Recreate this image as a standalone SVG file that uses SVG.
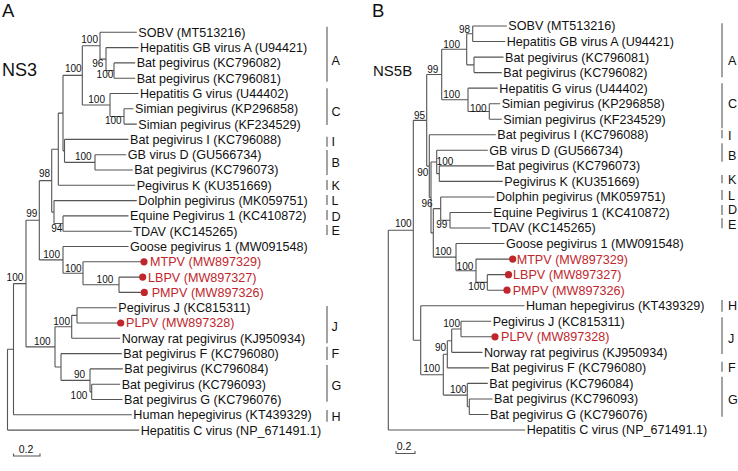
<svg xmlns="http://www.w3.org/2000/svg" width="738" height="471" viewBox="0 0 738 471">
<style>
.br{fill:none;stroke:#555;stroke-width:1.1}
.bar{fill:none;stroke:#666;stroke-width:1.2}
text{font-family:"Liberation Sans",Arial,Helvetica,sans-serif;fill:#111}
.t{font-size:12.6px}
.r{fill:#c0272d}
.s{font-size:10px;text-anchor:end}
.c{font-size:12.6px}
.p{font-size:18.5px}
.g{font-size:16px}
.sc{font-size:10.5px;text-anchor:middle}
.dot{fill:#c0272d}
</style>
<rect width="738" height="471" fill="#fff"/>
<text class="p" x="2" y="17">A</text>
<text class="g" x="2" y="76" style="font-size:18px">NS3</text>
<text class="p" x="372" y="17">B</text>
<text class="g" x="373" y="76" style="font-size:15px">NS5B</text>

<g id="connectors-A" class="br">
<path d="M7.5 349.2V430.1M7.5 349.2H13.5M7.5 430.1H139.2"/>
<path d="M13.5 283.6V414.8M13.5 283.6H26M13.5 414.8H131.8"/>
<path d="M26 220.3V346.9M26 220.3H39.3M26 346.9H55"/>
<path d="M39.3 180.65V259.9M39.3 180.65H51.7M39.3 259.9H63"/>
<path d="M51.7 149.2V212.1M51.7 149.2H58.3M51.7 212.1H54"/>
<path d="M58.3 113.1V185.3M58.3 113.1H63M58.3 185.3H135.2"/>
<path d="M63 75.35V150.9M63 75.35H82.3M63 150.9H64.5"/>
<path d="M64.5 139.4V162.35M64.5 139.4H128.5M64.5 162.35H95"/>
<path d="M95 154.7V170M95 154.7H126.2M95 170H132.8"/>
<path d="M82.3 45.7V105M82.3 45.7H100M82.3 105H110"/>
<path d="M100 32.3V59.1M100 32.3H136.8M100 59.1H106"/>
<path d="M106 47.6V70.55M106 47.6H138.5M106 70.55H114"/>
<path d="M114 62.9V78.2M114 62.9H135.2M114 78.2H135.2"/>
<path d="M110 93.5V116.45M110 93.5H138.5M110 116.45H124"/>
<path d="M124 108.8V124.1M124 108.8H133.5M124 124.1H136.8"/>
<path d="M54 200.6V223.55M54 200.6H136.8M54 223.55H63"/>
<path d="M63 215.9V231.2M63 215.9H128.5M63 231.2H131.8"/>
<path d="M63 246.5V273.3M63 246.5H128.5M63 273.3H83"/>
<path d="M83 261.8V284.75M83 261.8H144M83 284.75H119"/>
<path d="M119 277.1V292.4M119 277.1H142.7M119 292.4H144.3"/>
<path d="M55 326.8V367M55 326.8H71.7M55 367H61"/>
<path d="M71.7 315.35V338.3M71.7 315.35H77M71.7 338.3H120.2"/>
<path d="M77 307.7V323M77 307.7H116.8M77 323H120.7"/>
<path d="M61 353.6V380.4M61 353.6H121.8M61 380.4H90"/>
<path d="M90 368.9V391.85M90 368.9H122.8M90 391.85H91.7"/>
<path d="M91.7 384.2V399.5M91.7 384.2H120.2M91.7 399.5H122.5"/>
</g>

<g id="connectors-B" class="br">
<path d="M388.3 230.27V430M388.3 230.27H413.3M388.3 430H525.2"/>
<path d="M413.3 120.33V340.2M413.3 120.33H426.7M413.3 340.2H420.7"/>
<path d="M420.7 305.72V374.68M420.7 305.72H524.5M420.7 374.68H443.3"/>
<path d="M443.3 354.28V395.08M443.3 354.28H447.3M443.3 395.08H467.3"/>
<path d="M447.3 340.69V367.88M447.3 340.69H451.7M447.3 367.88H489.2"/>
<path d="M451.7 329.03V352.34M451.7 329.03H461M451.7 352.34H482.5"/>
<path d="M461 321.26V336.8M461 321.26H491.2M461 336.8H495"/>
<path d="M467.3 383.42V406.73M467.3 383.42H487.8M467.3 406.73H469.3"/>
<path d="M469.3 398.96V414.5M469.3 398.96H492.5M469.3 414.5H488.5"/>
<path d="M426.7 74.56V166.1M426.7 74.56H441.7M426.7 166.1H429.3"/>
<path d="M441.7 49.31V99.82M441.7 49.31H466.7M441.7 99.82H468"/>
<path d="M466.7 33.77V64.85M466.7 33.77H472.7M466.7 64.85H474"/>
<path d="M472.7 26V41.54M472.7 26H506.8M472.7 41.54H505.2"/>
<path d="M474 57.08V72.62M474 57.08H503.5M474 72.62H501.8"/>
<path d="M468 88.16V111.47M468 88.16H497.8M468 111.47H489.3"/>
<path d="M489.3 103.7V119.24M489.3 103.7H500.2M489.3 119.24H501.8"/>
<path d="M429.3 134.78V197.43M429.3 134.78H495.8M429.3 197.43H431"/>
<path d="M431 161.98V232.88M431 161.98H436.7M431 232.88H433.3"/>
<path d="M436.7 150.32V173.63M436.7 150.32H487.8M436.7 173.63H439.3"/>
<path d="M439.3 165.86V181.4M439.3 165.86H494.5M439.3 181.4H502.8"/>
<path d="M433.3 208.6V257.16M433.3 208.6H440.7M433.3 257.16H456"/>
<path d="M440.7 196.94V220.25M440.7 196.94H494.5M440.7 220.25H450"/>
<path d="M450 212.48V228.02M450 212.48H491.8M450 228.02H490.2"/>
<path d="M456 243.56V270.76M456 243.56H504.5M456 270.76H476"/>
<path d="M476 259.1V282.41M476 259.1H512.7M476 282.41H487.3"/>
<path d="M487.3 274.64V290.18M487.3 274.64H508.5M487.3 290.18H507"/>
</g>

<g id="support-A">
<text class="s" x="98" y="43.3">100</text>
<text class="s" x="103.3" y="66.8">96</text>
<text class="s" x="113.3" y="78.3">100</text>
<text class="s" x="81.7" y="71.8">100</text>
<text class="s" x="105" y="102.8">100</text>
<text class="s" x="121.7" y="124">100</text>
<text class="s" x="91.7" y="160">100</text>
<text class="s" x="50" y="177.3">98</text>
<text class="s" x="37.3" y="217.3">99</text>
<text class="s" x="62.3" y="232.3">94</text>
<text class="s" x="60" y="258.3">100</text>
<text class="s" x="81.7" y="271.7">100</text>
<text class="s" x="113.3" y="283.3">100</text>
<text class="s" x="23.3" y="280.6">100</text>
<text class="s" x="70" y="325.3">100</text>
<text class="s" x="50.7" y="345.3">100</text>
<text class="s" x="85" y="378.3">90</text>
<text class="s" x="87.3" y="399.3">100</text>
</g>

<g id="support-B">
<text class="s" x="470" y="33">98</text>
<text class="s" x="460" y="48">100</text>
<text class="s" x="460" y="98.3">100</text>
<text class="s" x="486.7" y="112.3">100</text>
<text class="s" x="438.3" y="73.3">99</text>
<text class="s" x="425" y="119">95</text>
<text class="s" x="428.3" y="175.7">90</text>
<text class="s" x="453.3" y="164.7">100</text>
<text class="s" x="432.7" y="207.3">96</text>
<text class="s" x="447.3" y="228.3">99</text>
<text class="s" x="451.7" y="255">100</text>
<text class="s" x="473.3" y="270">100</text>
<text class="s" x="485" y="290">100</text>
<text class="s" x="411.7" y="227.3">100</text>
<text class="s" x="460" y="326.7">100</text>
<text class="s" x="446" y="350.7">90</text>
<text class="s" x="440" y="371.7">100</text>
<text class="s" x="466.7" y="392.7">100</text>
</g>

<g id="A-SOBV"><text class="t" x="138.3" y="36.7">SOBV (MT513216)</text></g>
<g id="A-HGBVA"><text class="t" x="140" y="52">Hepatitis GB virus A (U94421)</text></g>
<g id="A-KC796082"><text class="t" x="136.7" y="67.3">Bat pegivirus (KC796082)</text></g>
<g id="A-KC796081"><text class="t" x="136.7" y="82.6">Bat pegivirus (KC796081)</text></g>
<g id="A-HGV"><text class="t" x="140" y="97.9">Hepatitis G virus (U44402)</text></g>
<g id="A-KP296858"><text class="t" x="135" y="113.2">Simian pegivirus (KP296858)</text></g>
<g id="A-KF234529"><text class="t" x="138.3" y="128.5">Simian pegivirus (KF234529)</text></g>
<g id="A-KC796088"><text class="t" x="130" y="143.8">Bat pegivirus I (KC796088)</text></g>
<g id="A-GBVD"><text class="t" x="127.7" y="159.1">GB virus D (GU566734)</text></g>
<g id="A-KC796073"><text class="t" x="134.3" y="174.4">Bat pegivirus (KC796073)</text></g>
<g id="A-PegK"><text class="t" x="136.7" y="189.7">Pegivirus K (KU351669)</text></g>
<g id="A-Dolphin"><text class="t" x="138.3" y="205">Dolphin pegivirus (MK059751)</text></g>
<g id="A-Equine"><text class="t" x="130" y="220.3">Equine Pegivirus 1 (KC410872)</text></g>
<g id="A-TDAV"><text class="t" x="133.3" y="235.6">TDAV (KC145265)</text></g>
<g id="A-Goose"><text class="t" x="130" y="250.9">Goose pegivirus 1 (MW091548)</text></g>
<g id="A-MTPV"><circle class="dot" cx="144" cy="261.8" r="3.6"/><text class="t r" x="150" y="266.2">MTPV (MW897329)</text></g>
<g id="A-LBPV"><circle class="dot" cx="142.7" cy="277.1" r="3.6"/><text class="t r" x="148" y="281.5">LBPV (MW897327)</text></g>
<g id="A-PMPV"><circle class="dot" cx="144.3" cy="292.4" r="3.6"/><text class="t r" x="151.7" y="296.8">PMPV (MW897326)</text></g>
<g id="A-PegJ"><text class="t" x="118.3" y="312.1">Pegivirus J (KC815311)</text></g>
<g id="A-PLPV"><circle class="dot" cx="120.7" cy="323" r="3.6"/><text class="t r" x="126" y="327.4">PLPV (MW897328)</text></g>
<g id="A-Norway"><text class="t" x="121.7" y="342.7">Norway rat pegivirus (KJ950934)</text></g>
<g id="A-BatF"><text class="t" x="123.3" y="358">Bat pegivirus F (KC796080)</text></g>
<g id="A-KC796084"><text class="t" x="124.3" y="373.3">Bat pegivirus (KC796084)</text></g>
<g id="A-KC796093"><text class="t" x="121.7" y="388.6">Bat pegivirus (KC796093)</text></g>
<g id="A-BatG"><text class="t" x="124" y="403.9">Bat pegivirus G (KC796076)</text></g>
<g id="A-Human"><text class="t" x="133.3" y="419.2">Human hepegivirus (KT439329)</text></g>
<g id="A-HCV"><text class="t" x="140.7" y="434.5">Hepatitis C virus (NP_671491.1)</text></g>

<g id="B-SOBV"><text class="t" x="508.3" y="30.4">SOBV (MT513216)</text></g>
<g id="B-HGBVA"><text class="t" x="506.7" y="45.9">Hepatitis GB virus A (U94421)</text></g>
<g id="B-KC796081"><text class="t" x="505" y="61.5">Bat pegivirus (KC796081)</text></g>
<g id="B-KC796082"><text class="t" x="503.3" y="77">Bat pegivirus (KC796082)</text></g>
<g id="B-HGV"><text class="t" x="499.3" y="92.6">Hepatitis G virus (U44402)</text></g>
<g id="B-KP296858"><text class="t" x="501.7" y="108.1">Simian pegivirus (KP296858)</text></g>
<g id="B-KF234529"><text class="t" x="503.3" y="123.6">Simian pegivirus (KF234529)</text></g>
<g id="B-KC796088"><text class="t" x="497.3" y="139.2">Bat pegivirus I (KC796088)</text></g>
<g id="B-GBVD"><text class="t" x="489.3" y="154.7">GB virus D (GU566734)</text></g>
<g id="B-KC796073"><text class="t" x="496" y="170.3">Bat pegivirus (KC796073)</text></g>
<g id="B-PegK"><text class="t" x="504.3" y="185.8">Pegivirus K (KU351669)</text></g>
<g id="B-Dolphin"><text class="t" x="496" y="201.3">Dolphin pegivirus (MK059751)</text></g>
<g id="B-Equine"><text class="t" x="493.3" y="216.9">Equine Pegivirus 1 (KC410872)</text></g>
<g id="B-TDAV"><text class="t" x="491.7" y="232.4">TDAV (KC145265)</text></g>
<g id="B-Goose"><text class="t" x="506" y="248">Goose pegivirus 1 (MW091548)</text></g>
<g id="B-MTPV"><circle class="dot" cx="512.7" cy="259.1" r="3.6"/><text class="t r" x="516.7" y="263.5">MTPV (MW897329)</text></g>
<g id="B-LBPV"><circle class="dot" cx="508.5" cy="274.64" r="3.6"/><text class="t r" x="513" y="279">LBPV (MW897327)</text></g>
<g id="B-PMPV"><circle class="dot" cx="507" cy="290.18" r="3.6"/><text class="t r" x="512.7" y="294.6">PMPV (MW897326)</text></g>
<g id="B-Human"><text class="t" x="526" y="310.1">Human hepegivirus (KT439329)</text></g>
<g id="B-PegJ"><text class="t" x="492.7" y="325.7">Pegivirus J (KC815311)</text></g>
<g id="B-PLPV"><circle class="dot" cx="495" cy="336.8" r="3.6"/><text class="t r" x="501" y="341.2">PLPV (MW897328)</text></g>
<g id="B-Norway"><text class="t" x="484" y="356.7">Norway rat pegivirus (KJ950934)</text></g>
<g id="B-BatF"><text class="t" x="490.7" y="372.3">Bat pegivirus F (KC796080)</text></g>
<g id="B-KC796084"><text class="t" x="489.3" y="387.8">Bat pegivirus (KC796084)</text></g>
<g id="B-KC796093"><text class="t" x="494" y="403.4">Bat pegivirus (KC796093)</text></g>
<g id="B-BatG"><text class="t" x="490" y="418.9">Bat pegivirus G (KC796076)</text></g>
<g id="B-HCV"><text class="t" x="526.7" y="434.4">Hepatitis C virus (NP_671491.1)</text></g>

<g id="clades-A">
<path class="bar" d="M327 26.7V81.7M327 88.3V125M327 136.7V146.7M327 150V175M327 180V190M327 195V205M327 210V220M327 225V235M327 306V343.3M327 346.7V360M327 365V401.7M327 410V421.7"/>
<text class="c" x="331.5" y="64.5">A</text>
<text class="c" x="331.5" y="116.2">C</text>
<text class="c" x="331.5" y="146.2">I</text>
<text class="c" x="331.5" y="167.2">B</text>
<text class="c" x="331.5" y="189.5">K</text>
<text class="c" x="331.5" y="204.5">L</text>
<text class="c" x="331.5" y="221.2">D</text>
<text class="c" x="331.5" y="234.5">E</text>
<text class="c" x="331.5" y="330.5">J</text>
<text class="c" x="331.5" y="357.8">F</text>
<text class="c" x="331.5" y="389.5">G</text>
<text class="c" x="331.5" y="421.2">H</text>
</g>
<g id="clades-B">
<path class="bar" d="M722 23.3V77.3M722 83.3V128.3M722 130V138.3M722 143.3V161.7M722 175V183.3M722 190V200M722 205V215M722 218.3V228.3M722 300V311.7M722 317.3V354M722 361.7V371.7M722 376.7V416.7"/>
<text class="c" x="728" y="65">A</text>
<text class="c" x="728" y="107.8">C</text>
<text class="c" x="728" y="139.5">I</text>
<text class="c" x="728" y="159.5">B</text>
<text class="c" x="728" y="183.8">K</text>
<text class="c" x="728" y="199.8">L</text>
<text class="c" x="728" y="213.8">D</text>
<text class="c" x="728" y="228.5">E</text>
<text class="c" x="728" y="309.5">H</text>
<text class="c" x="728" y="342.8">J</text>
<text class="c" x="728" y="371.8">F</text>
<text class="c" x="728" y="403.8">G</text>
</g>

<g id="scale-A">
<path class="br" d="M13.5 453.5V456H40V453.5"/>
<text class="sc" x="26" y="453">0.2</text>
</g>
<g id="scale-B">
<path class="br" d="M396 451V453.5H415V451"/>
<text class="sc" x="404" y="450">0.2</text>
</g>
</svg>
